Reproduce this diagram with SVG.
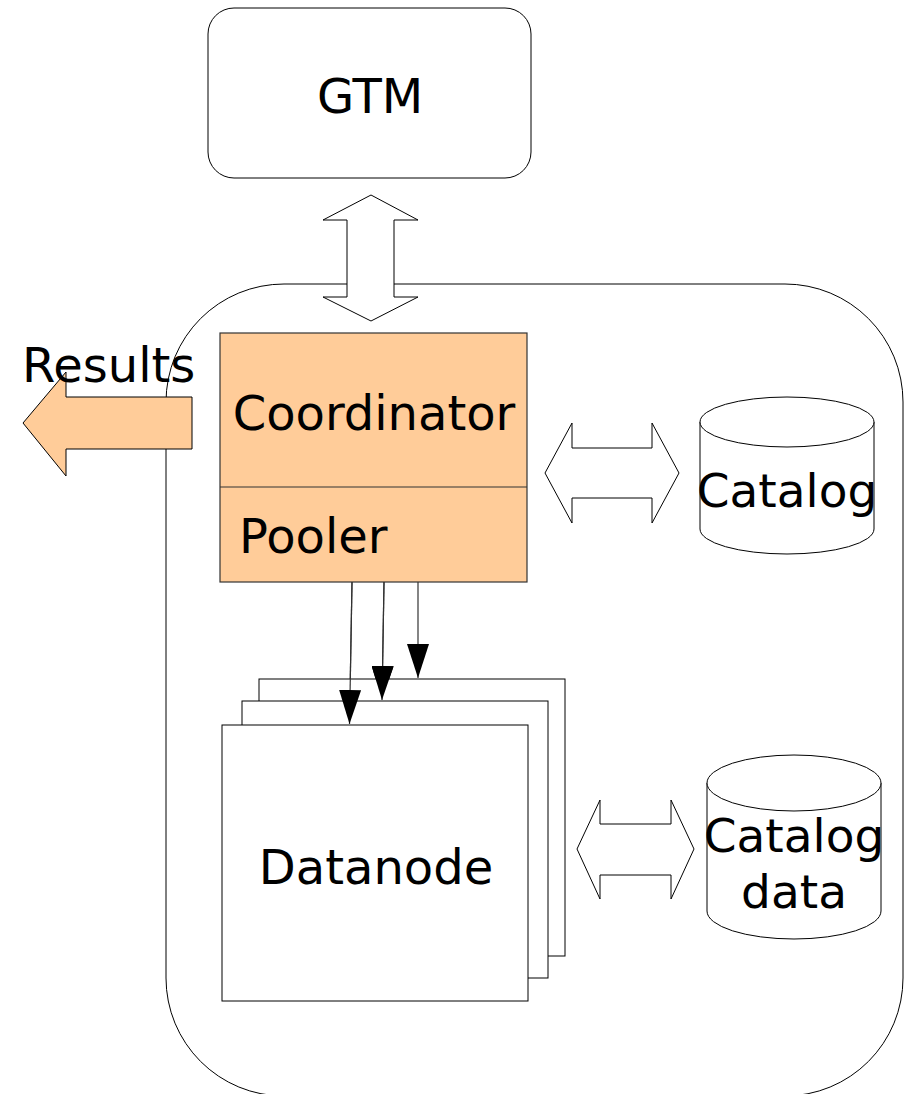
<svg xmlns="http://www.w3.org/2000/svg" width="905" height="1094" viewBox="0 0 905 1094">
  <defs>
    <style>
      .outline { fill: #ffffff; stroke: #000000; stroke-width: 1; }
      .peach { fill: #ffcc99; stroke: #333333; stroke-width: 1.2; }
      .label { font-family: "DejaVu Sans", "Liberation Sans", sans-serif; font-size: 48px; fill: #000000; }
      .store { font-size: 47px; }
      .wire { fill: none; stroke: #333333; stroke-width: 1.2; }
    </style>
    <marker id="head" viewBox="0 0 34 22" refX="34" refY="11" markerWidth="34" markerHeight="22" markerUnits="userSpaceOnUse" orient="auto">
      <path d="M0,0 L34,11 L0,22 Z" fill="#000000"/>
    </marker>
  </defs>

  <rect width="905" height="1094" fill="#ffffff"/>

  <!-- enclosing host boundary -->
  <g id="host">
    <rect x="166" y="284" width="737" height="812" rx="118" ry="118" fill="none" stroke="#000000" stroke-width="1"/>
  </g>

  <!-- global transaction manager -->
  <g id="gtm">
    <rect class="outline" x="208" y="8" width="323" height="170" rx="26" ry="26"/>
    <text class="label" x="370" y="113" text-anchor="middle">GTM</text>
  </g>

  <g id="connectors">
    <!-- GTM <-> coordinator -->
    <polygon class="outline" points="371,195 418,220 394,220 394,297 418,297 371,321 323,297 347,297 347,220 323,220"/>
    <!-- coordinator <-> catalog -->
    <polygon class="outline" points="545,473 572,423 572,448 652,448 652,423 679,473 652,523 652,498 572,498 572,523"/>
    <!-- datanode <-> catalog data -->
    <polygon class="outline" points="577,849 600,800 600,824 671,824 671,800 694,849 671,899 671,875 600,875 600,899"/>
    <!-- pooled connections to the datanodes -->
    <line class="wire" x1="352" y1="582" x2="349.5" y2="724" marker-end="url(#head)"/>
    <line class="wire" x1="384" y1="582" x2="382" y2="700" marker-end="url(#head)"/>
    <line class="wire" x1="418" y1="582" x2="418" y2="678" marker-end="url(#head)"/>
  </g>

  <!-- results leaving the cluster -->
  <g id="results">
    <polygon fill="#ffcc99" stroke="#000000" stroke-width="1" points="23,423 66,372 66,397 192,397 192,449 66,449 66,476"/>
    <text class="label" x="22" y="382">Results</text>
  </g>

  <!-- coordinator with connection pooler -->
  <g id="coordinator">
    <rect class="peach" x="220" y="333" width="307" height="249"/>
    <line x1="220" y1="487" x2="527" y2="487" stroke="#333333" stroke-width="1.2"/>
    <text class="label" x="374" y="430" text-anchor="middle">Coordinator</text>
    <text class="label" x="239" y="553">Pooler</text>
  </g>

  <!-- catalog store -->
  <g id="catalog">
    <path class="outline" d="M700,422 L700,529 A87,25 0 0 0 874,529 L874,422 Z"/>
    <ellipse class="outline" cx="787" cy="422" rx="87" ry="25"/>
    <text class="label store" x="787" y="507" text-anchor="middle">Catalog</text>
  </g>

  <!-- datanode stack -->
  <g id="datanode">
    <rect class="outline" x="259" y="679" width="306" height="277"/>
    <rect class="outline" x="242" y="701" width="306" height="277"/>
    <rect class="outline" x="222" y="725" width="306" height="276"/>
    <text class="label" x="376" y="884" text-anchor="middle">Datanode</text>
  </g>

  <!-- catalog and data store -->
  <g id="catalog-data">
    <path class="outline" d="M707,783 L707,911 A87,28 0 0 0 881,911 L881,783 Z"/>
    <ellipse class="outline" cx="794" cy="783" rx="87" ry="28"/>
    <text class="label store" x="794" y="852" text-anchor="middle">Catalog</text>
    <text class="label store" x="794" y="908" text-anchor="middle">data</text>
  </g>

  <!-- arrow tips that land on the stacked datanodes stay above them -->
  <g id="connector-heads">
    <line class="wire" x1="352" y1="582" x2="349.5" y2="724" marker-end="url(#head)"/>
    <line class="wire" x1="384" y1="582" x2="382" y2="700" marker-end="url(#head)"/>
  </g>
</svg>
